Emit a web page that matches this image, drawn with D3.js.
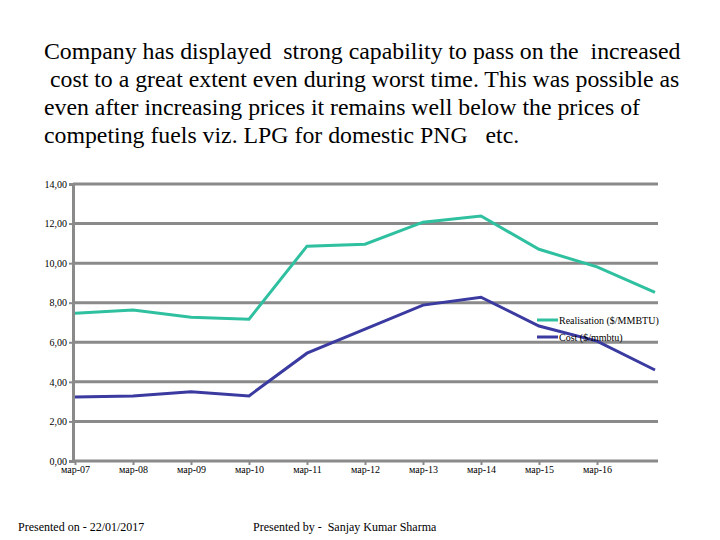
<!DOCTYPE html>
<html><head><meta charset="utf-8">
<script src="https://cdn.jsdelivr.net/npm/d3@7/dist/d3.min.js"></script>
<style>body{margin:0;background:#fff}svg{display:block}</style>
</head><body>
<script>
const categories = ["мар-07","мар-08","мар-09","мар-10","мар-11","мар-12","мар-13","мар-14","мар-15","мар-16","мар-17"];
const tickLabels = ["мар-07","мар-08","мар-09","мар-10","мар-11","мар-12","мар-13","мар-14","мар-15","мар-16"];
const realisation = [7.47,7.63,7.27,7.17,10.86,10.96,12.07,12.38,10.70,9.81,8.52];
const cost = [3.23,3.28,3.50,3.29,5.45,6.67,7.88,8.28,6.82,6.06,4.60];
const yTicks = [0,2,4,6,8,10,12,14];
const seriesNames = ["Realisation ($/MMBTU)","Cost ($/mmbtu)"];
const titleLines = ["Company has displayed  strong capability to pass on the  increased",
 " cost to a great extent even during worst time. This was possible as",
 "even after increasing prices it remains well below the prices of",
 "competing fuels viz. LPG for domestic PNG   etc."];
const footerLeft = "Presented on - 22/01/2017";
const footerRight = "Presented by -  Sanjay Kumar Sharma";

const FF='"Liberation Serif", "Times New Roman", serif';
const W=720,H=540;
const svg=d3.select("body").append("svg").attr("width",W).attr("height",H);
const L=73,R=658,T=184,B=461;
const x=d3.scalePoint().domain(categories).range([75,655]);
const y=d3.scaleLinear().domain([0,14]).range([B,T]);
const grid="#8a8a8a";

// title
svg.append("g").selectAll("text").data(titleLines).join("text")
  .attr("x",44).attr("y",(d,i)=>58.5+i*28.3).attr("font-size",23.8).attr("fill","#000")
  .style("font-family",FF).style("white-space","pre").attr("xml:space","preserve").text(d=>d);

// gridlines
svg.append("g").selectAll("line").data(yTicks.filter(v=>v>0)).join("line")
  .attr("x1",L).attr("x2",R).attr("y1",d=>y(d)).attr("y2",d=>y(d))
  .attr("stroke",grid).attr("stroke-width",3);

// y axis
const ya=svg.append("g").attr("transform",`translate(${L},0)`)
  .call(d3.axisLeft(y).tickValues(yTicks).tickSize(4).tickFormat(d=>d3.format(".2f")(d).replace(".",",")));
ya.select(".domain").attr("stroke",grid).attr("stroke-width",3);
ya.selectAll(".tick line").attr("stroke",grid).attr("stroke-width",2);
ya.selectAll(".tick text").style("font-family",FF).attr("font-size",10).attr("fill","#000").attr("x",-6);

// x axis
const xa=svg.append("g").attr("transform",`translate(0,${B})`)
  .call(d3.axisBottom(x).tickValues(tickLabels).tickSize(4).tickSizeOuter(0));
xa.select(".domain").attr("d",`M${L},0H${R}`).attr("stroke",grid).attr("stroke-width",3);
xa.selectAll(".tick line").attr("stroke",grid).attr("stroke-width",2);
xa.selectAll(".tick text").style("font-family",FF).attr("font-size",10).attr("fill","#000").attr("y",5);

// lines
const line=d3.line().x((d,i)=>x(categories[i])).y(d=>y(d));
const colors=["#2fc0a0","#3a3aa0"];
[realisation,cost].forEach((s,k)=>{
  svg.append("path").datum(s).attr("d",line).attr("fill","none")
    .attr("stroke",colors[k]).attr("stroke-width",3).attr("stroke-linejoin","miter");
});

// legend
const lg=svg.append("g");
seriesNames.forEach((n,k)=>{
  const yy=320+k*17;
  lg.append("line").attr("x1",537).attr("x2",558).attr("y1",yy).attr("y2",yy).attr("stroke",colors[k]).attr("stroke-width",3);
  lg.append("text").attr("x",559).attr("y",yy+4).attr("font-size",10).style("font-family",FF).attr("fill","#000").text(n);
});

// footer
svg.append("text").attr("x",18).attr("y",531).attr("font-size",12).style("font-family",FF).text(footerLeft);
svg.append("text").attr("x",253).attr("y",531).attr("font-size",12).style("font-family",FF).style("white-space","pre").attr("xml:space","preserve").text(footerRight);
</script>
</body></html>
